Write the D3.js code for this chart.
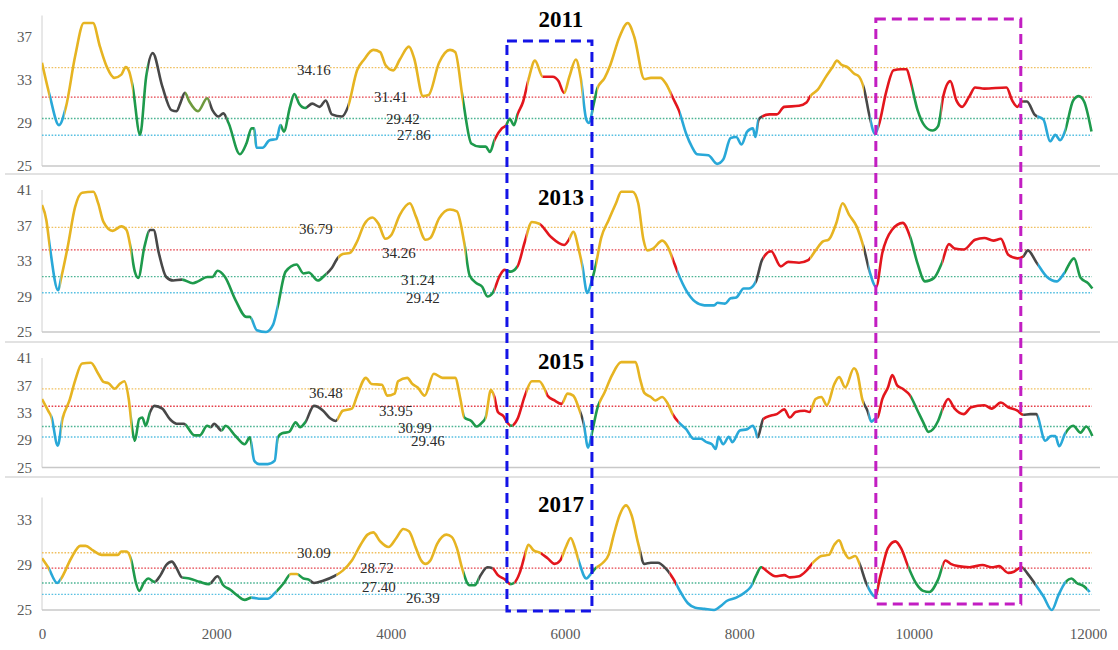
<!DOCTYPE html>
<html>
<head>
<meta charset="utf-8">
<script src="https://cdn.jsdelivr.net/npm/d3@7"></script>
<style>
  body { margin: 0; background: #fff; }
  svg { display: block; font-family: "Liberation Serif", "Times New Roman", serif; }
</style>
</head>
<body>
<div id="chart"></div>
<script>
// ---- data ----
const years = ["2011", "2013", "2015", "2017"];
const xTicks = [0, 2000, 4000, 6000, 8000, 10000, 12000];
const yTicks = [[25, 29, 33, 37], [25, 29, 33, 37, 41], [25, 29, 33, 37, 41], [25, 29, 33]];
const yMax = [39, 41, 41, 35];

// threshold values (yellow, red, green, blue)
const thr2011 = [34.16, 31.41, 29.42, 27.86];
const thr2013 = [36.79, 34.26, 31.24, 29.42];
const thr2015 = [36.48, 33.95, 30.99, 29.46];
const thr2017 = [30.09, 28.72, 27.40, 26.39];

// [position, value]
const s2011 = [[0,34.6],[90,31.5],[195,28.8],[275,30.5],[380,35.2],[480,38.3],[585,38.3],[665,36.1],[745,34.2],[830,33.2],[910,33.5],[960,34.2],[1000,33.8],[1040,32.4],[1125,27.9],[1195,33.3],[1270,35.5],[1380,32.4],[1485,30.2],[1545,30.1],[1585,30.8],[1640,31.8],[1690,31.0],[1790,30.1],[1895,31.3],[1955,30.2],[2025,29.6],[2080,29.9],[2140,29.0],[2270,26.1],[2345,27.1],[2405,28.5],[2435,28.5],[2460,26.7],[2530,26.7],[2610,27.4],[2690,27.5],[2735,28.8],[2775,28.2],[2845,30.5],[2895,31.7],[2950,30.8],[3020,30.4],[3100,30.8],[3185,30.5],[3255,31.1],[3325,29.8],[3440,29.6],[3510,30.5],[3615,33.9],[3695,34.9],[3800,35.8],[3880,35.6],[3940,34.4],[4030,33.9],[4105,34.9],[4210,36.1],[4270,35.0],[4370,31.5],[4435,31.6],[4555,34.6],[4680,35.8],[4740,35.6],[4830,31.1],[4925,27.1],[5025,26.8],[5090,26.8],[5140,26.3],[5190,27.4],[5275,28.5],[5325,28.8],[5365,29.4],[5415,28.8],[5455,29.8],[5520,31.0],[5580,33.0],[5655,34.8],[5745,33.3],[5860,33.3],[5925,32.9],[5990,31.8],[6050,33.3],[6125,34.9],[6180,33.2],[6245,29.3],[6275,29.0],[6330,30.8],[6370,32.2],[6455,33.2],[6520,34.4],[6625,37.0],[6720,38.3],[6795,37.0],[6910,33.1],[6985,33.2],[7095,33.2],[7155,32.7],[7240,31.3],[7305,30.2],[7390,28.0],[7455,26.8],[7515,26.1],[7645,26.0],[7745,25.2],[7815,25.6],[7900,27.6],[7965,27.7],[8025,27.0],[8090,28.2],[8155,28.5],[8185,27.7],[8220,29.3],[8260,29.6],[8345,29.8],[8430,29.8],[8515,30.5],[8685,30.6],[8770,30.9],[8815,31.5],[8900,32.1],[8985,33.2],[9070,34.2],[9120,34.8],[9175,34.4],[9240,34.2],[9315,33.6],[9375,33.3],[9430,32.2],[9495,29.6],[9555,28.0],[9600,28.8],[9685,31.9],[9770,33.9],[9855,34.0],[9920,34.0],[9960,33.0],[10045,30.2],[10130,28.7],[10215,28.3],[10280,28.7],[10340,31.5],[10420,32.9],[10490,31.1],[10555,30.5],[10640,31.5],[10705,32.3],[10810,32.2],[11065,32.3],[11130,31.1],[11190,30.5],[11245,31.0],[11300,31.0],[11385,29.8],[11490,29.3],[11565,27.3],[11625,27.9],[11680,27.4],[11735,28.2],[11830,31.1],[11895,31.5],[11955,31.0],[12040,28.2]];

const s2013 = [[0,39.3],[50,37.6],[90,34.6],[185,29.7],[220,31.1],[295,34.6],[380,39.1],[460,40.7],[590,40.8],[645,39.5],[705,37.4],[810,36.4],[910,36.9],[970,36.5],[1015,34.6],[1065,31.8],[1105,31.1],[1175,34.6],[1240,36.5],[1280,36.5],[1340,33.9],[1425,31.2],[1505,30.8],[1605,30.9],[1730,30.5],[1790,30.7],[1895,31.2],[1955,31.2],[2015,31.9],[2100,31.2],[2220,28.6],[2345,26.7],[2385,26.7],[2465,25.2],[2570,25.0],[2650,25.8],[2705,27.9],[2795,31.8],[2920,32.6],[3000,31.6],[3060,31.7],[3165,30.8],[3245,31.4],[3325,32.2],[3390,33.3],[3450,33.8],[3530,33.9],[3615,35.2],[3695,37.1],[3790,37.9],[3860,37.2],[3940,35.5],[4005,35.9],[4105,38.2],[4220,39.5],[4290,38.0],[4400,35.4],[4455,35.6],[4555,37.8],[4680,38.8],[4760,38.6],[4845,35.0],[4905,31.4],[4985,30.5],[5050,30.1],[5110,29.0],[5170,29.4],[5255,31.4],[5305,32.0],[5375,31.8],[5455,32.4],[5540,35.2],[5620,37.4],[5705,37.2],[5840,35.7],[5990,34.8],[6045,35.4],[6095,36.3],[6160,34.2],[6200,32.4],[6255,29.4],[6305,30.7],[6350,32.4],[6415,35.6],[6500,37.6],[6585,39.5],[6645,40.8],[6775,40.8],[6840,39.5],[6900,35.4],[6945,34.2],[7010,34.4],[7115,35.3],[7180,34.6],[7240,33.1],[7290,31.8],[7390,29.7],[7495,28.4],[7600,28.0],[7710,28.0],[7750,28.3],[7835,28.2],[7900,28.8],[7965,28.9],[8050,29.9],[8110,29.9],[8190,30.7],[8260,33.1],[8365,34.1],[8475,32.4],[8560,32.9],[8685,32.8],[8790,33.1],[8875,34.2],[8960,35.2],[9025,35.4],[9110,37.2],[9185,39.5],[9260,38.2],[9345,36.9],[9430,34.4],[9495,31.8],[9570,30.1],[9640,33.9],[9750,36.5],[9875,37.3],[9960,35.7],[10045,32.7],[10130,30.7],[10235,31.1],[10320,32.7],[10405,34.9],[10470,34.4],[10575,34.3],[10705,35.4],[10810,35.6],[10915,35.3],[11000,35.5],[11085,33.7],[11190,33.3],[11255,33.5],[11310,34.2],[11405,32.9],[11530,31.2],[11640,30.7],[11725,31.6],[11840,33.3],[11915,31.1],[12000,30.5],[12050,29.9]];

const s2015 = [[0,35.0],[70,33.3],[110,32.3],[180,28.2],[235,32.1],[315,34.8],[380,37.7],[460,40.2],[560,40.3],[645,38.7],[705,37.5],[765,37.3],[835,36.5],[890,37.2],[945,37.6],[995,35.0],[1035,30.6],[1065,28.9],[1115,32.1],[1150,32.3],[1190,31.1],[1240,33.1],[1290,34.0],[1380,33.6],[1465,32.1],[1545,31.4],[1625,31.4],[1750,29.7],[1810,29.7],[1895,31.1],[1935,30.9],[1975,31.4],[2060,30.4],[2105,31.1],[2220,29.6],[2325,28.4],[2385,29.4],[2435,26.0],[2490,25.5],[2590,25.5],[2670,26.0],[2705,29.4],[2755,30.0],[2835,30.2],[2910,31.6],[2960,30.9],[3020,31.6],[3120,34.0],[3225,33.3],[3305,32.2],[3370,31.8],[3450,33.3],[3555,33.6],[3615,35.5],[3715,38.1],[3780,37.2],[3900,37.1],[3960,35.5],[4045,35.8],[4085,37.6],[4190,38.1],[4250,37.2],[4310,36.7],[4390,35.5],[4495,38.7],[4595,38.1],[4740,38.1],[4800,35.0],[4845,32.3],[4925,31.8],[4985,31.0],[5050,31.6],[5090,32.3],[5150,36.3],[5190,35.3],[5230,33.1],[5295,32.5],[5335,31.6],[5385,31.1],[5455,32.1],[5540,35.5],[5620,37.6],[5705,37.6],[5765,36.5],[5800,35.5],[5880,34.8],[5960,34.3],[6030,35.8],[6095,35.5],[6160,33.6],[6215,31.4],[6265,27.9],[6315,30.4],[6370,33.6],[6455,36.0],[6540,38.5],[6645,40.4],[6810,40.4],[6860,38.0],[6910,35.9],[6985,35.3],[7035,34.8],[7115,35.3],[7180,34.3],[7235,32.8],[7305,31.6],[7390,30.6],[7475,29.2],[7560,29.2],[7625,28.7],[7685,28.4],[7730,27.7],[7760,29.5],[7815,28.4],[7880,29.5],[7920,28.7],[8005,30.4],[8090,30.6],[8155,31.1],[8185,30.4],[8210,29.4],[8275,32.1],[8365,32.6],[8430,32.8],[8515,33.5],[8580,32.3],[8645,33.1],[8750,33.3],[8805,33.1],[8875,35.0],[8940,35.3],[9005,34.1],[9090,37.2],[9145,38.2],[9215,36.7],[9315,39.5],[9355,38.7],[9410,35.0],[9470,33.3],[9515,31.7],[9555,32.1],[9585,32.3],[9640,35.0],[9705,36.7],[9755,38.5],[9810,37.0],[9875,36.5],[9960,35.5],[10045,33.3],[10110,31.6],[10170,30.2],[10280,31.8],[10340,33.8],[10395,35.0],[10470,33.6],[10575,32.8],[10660,33.8],[10810,34.1],[10895,33.6],[11000,34.5],[11085,33.8],[11190,33.3],[11255,32.7],[11340,32.8],[11405,32.8],[11510,28.9],[11575,29.6],[11625,29.6],[11670,28.1],[11735,29.9],[11830,31.1],[11915,30.1],[11980,31.0],[12050,29.6]];

const s2017 = [[0,29.6],[70,28.8],[175,27.4],[220,27.8],[335,29.6],[440,30.7],[500,30.7],[585,30.3],[685,29.9],[870,29.9],[910,30.2],[970,30.2],[1025,29.4],[1075,27.5],[1115,26.7],[1175,27.5],[1220,27.8],[1290,27.5],[1360,28.1],[1425,29.0],[1490,29.3],[1545,28.7],[1605,27.9],[1690,27.8],[1810,27.5],[1915,27.3],[2015,28.0],[2080,27.2],[2160,26.8],[2240,26.3],[2325,25.9],[2405,26.1],[2510,26.0],[2590,26.0],[2670,26.5],[2775,27.4],[2855,28.2],[2920,28.2],[3000,27.8],[3060,27.7],[3120,27.4],[3225,27.6],[3350,28.0],[3450,28.5],[3555,29.4],[3655,30.8],[3735,31.7],[3800,31.9],[3880,31.1],[3975,30.6],[4065,31.4],[4145,32.2],[4210,32.0],[4290,30.5],[4350,29.4],[4400,29.1],[4455,29.4],[4535,30.9],[4640,31.7],[4700,31.5],[4760,30.5],[4820,28.7],[4905,27.2],[4965,27.2],[5025,28.0],[5110,28.8],[5170,28.7],[5230,28.1],[5315,27.7],[5375,27.3],[5415,27.4],[5480,28.3],[5530,29.6],[5580,30.8],[5640,30.3],[5710,30.1],[5800,29.6],[5880,29.1],[5945,29.4],[6010,30.6],[6065,31.4],[6115,30.5],[6160,29.3],[6245,27.8],[6305,28.3],[6350,28.7],[6435,29.2],[6500,29.9],[6560,31.7],[6625,33.4],[6700,34.3],[6765,33.4],[6840,30.9],[6910,29.1],[6985,29.2],[7065,29.2],[7155,28.7],[7240,27.8],[7325,26.6],[7410,25.6],[7495,25.2],[7600,25.1],[7710,25.0],[7795,25.4],[7855,25.8],[7965,26.1],[8070,26.6],[8135,27.1],[8195,28.1],[8250,28.8],[8325,28.4],[8410,28.0],[8515,28.1],[8580,27.9],[8685,28.0],[8770,28.5],[8855,29.3],[8940,29.8],[9025,29.9],[9090,30.8],[9145,31.2],[9195,30.3],[9260,29.6],[9330,29.8],[9385,29.0],[9450,27.5],[9515,26.5],[9555,26.2],[9620,28.1],[9705,30.5],[9790,31.1],[9855,30.5],[9940,28.8],[10025,27.4],[10110,26.7],[10180,26.6],[10280,27.7],[10365,29.4],[10425,29.1],[10510,28.9],[10640,28.8],[10790,29.0],[10895,28.8],[10980,28.9],[11085,28.3],[11150,28.4],[11235,28.8],[11320,28.1],[11385,27.4],[11490,26.2],[11585,25.0],[11660,26.3],[11735,27.4],[11810,27.8],[11870,27.4],[11955,27.1],[12020,26.6]];

// colour class of the line from each position on
const c2011 = [[0,"Y"],[90,"B"],[260,"Y"],[1042,"G"],[1215,"K"],[1640,"O"],[1920,"K"],[2120,"G"],[2440,"B"],[2740,"G"],[3040,"K"],[3512,"Y"],[4830,"G"],[5191,"R"],[5320,"G"],[5450,"R"],[5570,"Y"],[5744,"R"],[5988,"Y"],[6200,"B"],[6320,"G"],[6370,"Y"],[7220,"R"],[7320,"B"],[8218,"K"],[8261,"R"],[8813,"Y"],[9429,"K"],[9505,"B"],[9599,"R"],[9980,"G"],[10320,"R"],[11255,"K"],[11420,"B"],[11740,"G"]];
const c2013 = [[0,"Y"],[91,"B"],[214,"Y"],[1025,"G"],[1220,"K"],[1607,"G"],[2405,"B"],[2705,"G"],[3265,"K"],[3400,"Y"],[4860,"G"],[5190,"R"],[5335,"G"],[5450,"R"],[5560,"Y"],[5715,"R"],[6050,"Y"],[6200,"B"],[6300,"G"],[6355,"Y"],[7232,"R"],[7292,"B"],[8188,"K"],[8273,"R"],[8813,"Y"],[9429,"K"],[9484,"B"],[9569,"R"],[9960,"G"],[10330,"R"],[11256,"K"],[11425,"B"],[11735,"G"]];
const c2015 = [[0,"Y"],[112,"B"],[225,"Y"],[1030,"G"],[1238,"K"],[1650,"G"],[1935,"K"],[2060,"G"],[2405,"B"],[2705,"G"],[3030,"K"],[3390,"Y"],[4843,"G"],[5089,"Y"],[5191,"R"],[5370,"G"],[5400,"R"],[5560,"Y"],[5785,"R"],[5975,"Y"],[6180,"K"],[6213,"B"],[6307,"G"],[6390,"Y"],[7241,"R"],[7305,"B"],[8210,"K"],[8273,"R"],[8825,"Y"],[9429,"K"],[9484,"B"],[9586,"R"],[9968,"G"],[10330,"R"],[11256,"K"],[11425,"B"],[11745,"G"]];
const c2017 = [[0,"Y"],[84,"B"],[215,"Y"],[1025,"G"],[1300,"K"],[1615,"G"],[1935,"K"],[2040,"G"],[2405,"B"],[2690,"G"],[2840,"Y"],[2940,"G"],[3080,"K"],[3380,"Y"],[4840,"G"],[5009,"K"],[5171,"R"],[5370,"G"],[5420,"R"],[5540,"Y"],[5724,"R"],[5967,"Y"],[6158,"B"],[6307,"G"],[6360,"Y"],[6868,"K"],[7200,"R"],[7275,"B"],[8155,"G"],[8260,"R"],[8835,"Y"],[9386,"K"],[9472,"B"],[9580,"R"],[9939,"G"],[10330,"R"],[11256,"K"],[11400,"B"],[11745,"G"],[11990,"B"]];

// where each threshold label sits: [position, offset below its line]
const lab2011 = [[3120,7],[4003,5],[4141,6],[4267,5]];
const lab2013 = [[3143,7],[4095,8],[4313,8],[4370,10]];
const lab2015 = [[3257,9],[4060,10],[4278,6],[4427,9]];
const lab2017 = [[3120,5],[3842,5],[3865,9],[4370,9]];

// highlighted ranges
const boxBlue = [5334, 6309];
const boxMagenta = [9566, 11229];

const series = [s2011, s2013, s2015, s2017];
const thresholds = [thr2011, thr2013, thr2015, thr2017];
const colorRuns = [c2011, c2013, c2015, c2017];
const labelPos = [lab2011, lab2013, lab2015, lab2017];

// ---- drawing ----
const width = 1118, height = 650;
const svg = d3.select("#chart").append("svg")
    .attr("width", width)
    .attr("height", height);

const x = d3.scaleLinear().domain([0, 12000]).range([42, 1088]);

const lineColor = { Y: "#e6b422", R: "#e3161d", G: "#1e9a4c", B: "#29a8d8", K: "#484848", O: "#6e9a3e" };
const thrColor = ["#f0c060", "#e5404a", "#4cb493", "#58c0e2"];

// pixel frame of every panel
const frames = [
    { top: 15.5, bottom: 166, sep: 174 },
    { top: 190, bottom: 332, sep: 342 },
    { top: 358, bottom: 467.5, sep: 477 },
    { top: 497.5, bottom: 610 }
];
const titleBase = [27, 205, 369, 512];

const defs = svg.append("defs");

frames.forEach((f, pi) => {
    const y = d3.scaleLinear().domain([25, yMax[pi]]).range([f.bottom, f.top]);
    const g = svg.append("g").attr("class", "panel");

    // separator under the panel
    if (f.sep) {
        g.append("line")
            .attr("x1", 5).attr("x2", width)
            .attr("y1", f.sep).attr("y2", f.sep)
            .attr("stroke", "#d9d9d9").attr("stroke-width", 1.5);
    }
    // left and bottom axis lines
    g.append("line")
        .attr("x1", x(0)).attr("x2", x(0))
        .attr("y1", f.top).attr("y2", f.bottom)
        .attr("stroke", "#d0d0d0").attr("stroke-width", 1);
    g.append("line")
        .attr("x1", x(0)).attr("x2", 1100)
        .attr("y1", f.bottom).attr("y2", f.bottom)
        .attr("stroke", "#c8c8c8").attr("stroke-width", 1.6);

    // y tick labels
    const yAxis = g.append("g")
        .attr("transform", `translate(${x(0)},0)`)
        .call(d3.axisLeft(y).tickValues(yTicks[pi]).tickSize(0).tickPadding(10));
    yAxis.select(".domain").remove();
    yAxis.selectAll("text")
        .style("font-family", '"Liberation Serif", serif')
        .style("font-size", "15px")
        .attr("fill", "#595959");

    // threshold lines + labels
    thresholds[pi].forEach((t, k) => {
        g.append("line")
            .attr("x1", x(0)).attr("x2", x(12000) + 4)
            .attr("y1", y(t)).attr("y2", y(t))
            .attr("stroke", thrColor[k])
            .attr("stroke-width", 1.3)
            .attr("stroke-dasharray", "1.6,1.6");
    });
    thresholds[pi].forEach((t, k) => {
        const lp = labelPos[pi][k];
        g.append("text")
            .attr("x", x(lp[0]))
            .attr("y", y(t) + lp[1])
            .attr("text-anchor", "middle")
            .attr("font-size", "15px")
            .attr("fill", "#2b2b2b")
            .text(t.toFixed(2));
    });

    // coloured line: one clipped copy of the path per colour run
    const line = d3.line()
        .x(d => x(d[0]))
        .y(d => y(d[1]))
        .curve(d3.curveMonotoneX);
    const pathD = line(series[pi]);
    const runs = colorRuns[pi];
    runs.forEach((r, i) => {
        const start = r[0];
        const end = i + 1 < runs.length ? runs[i + 1][0] : 12200;
        const id = `clip-${pi}-${i}`;
        defs.append("clipPath").attr("id", id)
            .append("rect")
            .attr("x", x(start))
            .attr("y", f.top - 20)
            .attr("width", x(end) - x(start))
            .attr("height", f.bottom - f.top + 40);
        g.append("path")
            .attr("d", pathD)
            .attr("clip-path", `url(#${id})`)
            .attr("fill", "none")
            .attr("stroke", lineColor[r[1]])
            .attr("stroke-width", 2.6)
            .attr("stroke-linejoin", "round");
    });

    // year title
    svg.append("text")
        .attr("x", x(5953))
        .attr("y", titleBase[pi])
        .attr("text-anchor", "middle")
        .attr("font-size", "23px")
        .attr("font-weight", "bold")
        .attr("fill", "#000")
        .text(years[pi]);
});

// x tick labels
const xAxis = svg.append("g")
    .attr("transform", "translate(0,628)")
    .call(d3.axisBottom(x).tickValues(xTicks).tickSize(0).tickPadding(0).tickFormat(d3.format("d")));
xAxis.select(".domain").remove();
xAxis.selectAll("text")
    .style("font-family", '"Liberation Serif", serif')
    .style("font-size", "15px")
    .attr("fill", "#595959");

// dashed highlight boxes
svg.append("rect")
    .attr("x", x(boxBlue[0]))
    .attr("y", 41)
    .attr("width", x(boxBlue[1]) - x(boxBlue[0]))
    .attr("height", 611 - 41)
    .attr("fill", "none")
    .attr("stroke", "#1414e6")
    .attr("stroke-width", 3)
    .attr("stroke-dasharray", "10,6");
svg.append("rect")
    .attr("x", x(boxMagenta[0]))
    .attr("y", 19)
    .attr("width", x(boxMagenta[1]) - x(boxMagenta[0]))
    .attr("height", 604 - 19)
    .attr("fill", "none")
    .attr("stroke", "#c21ec2")
    .attr("stroke-width", 3)
    .attr("stroke-dasharray", "10,6");
</script>
</body>
</html>
